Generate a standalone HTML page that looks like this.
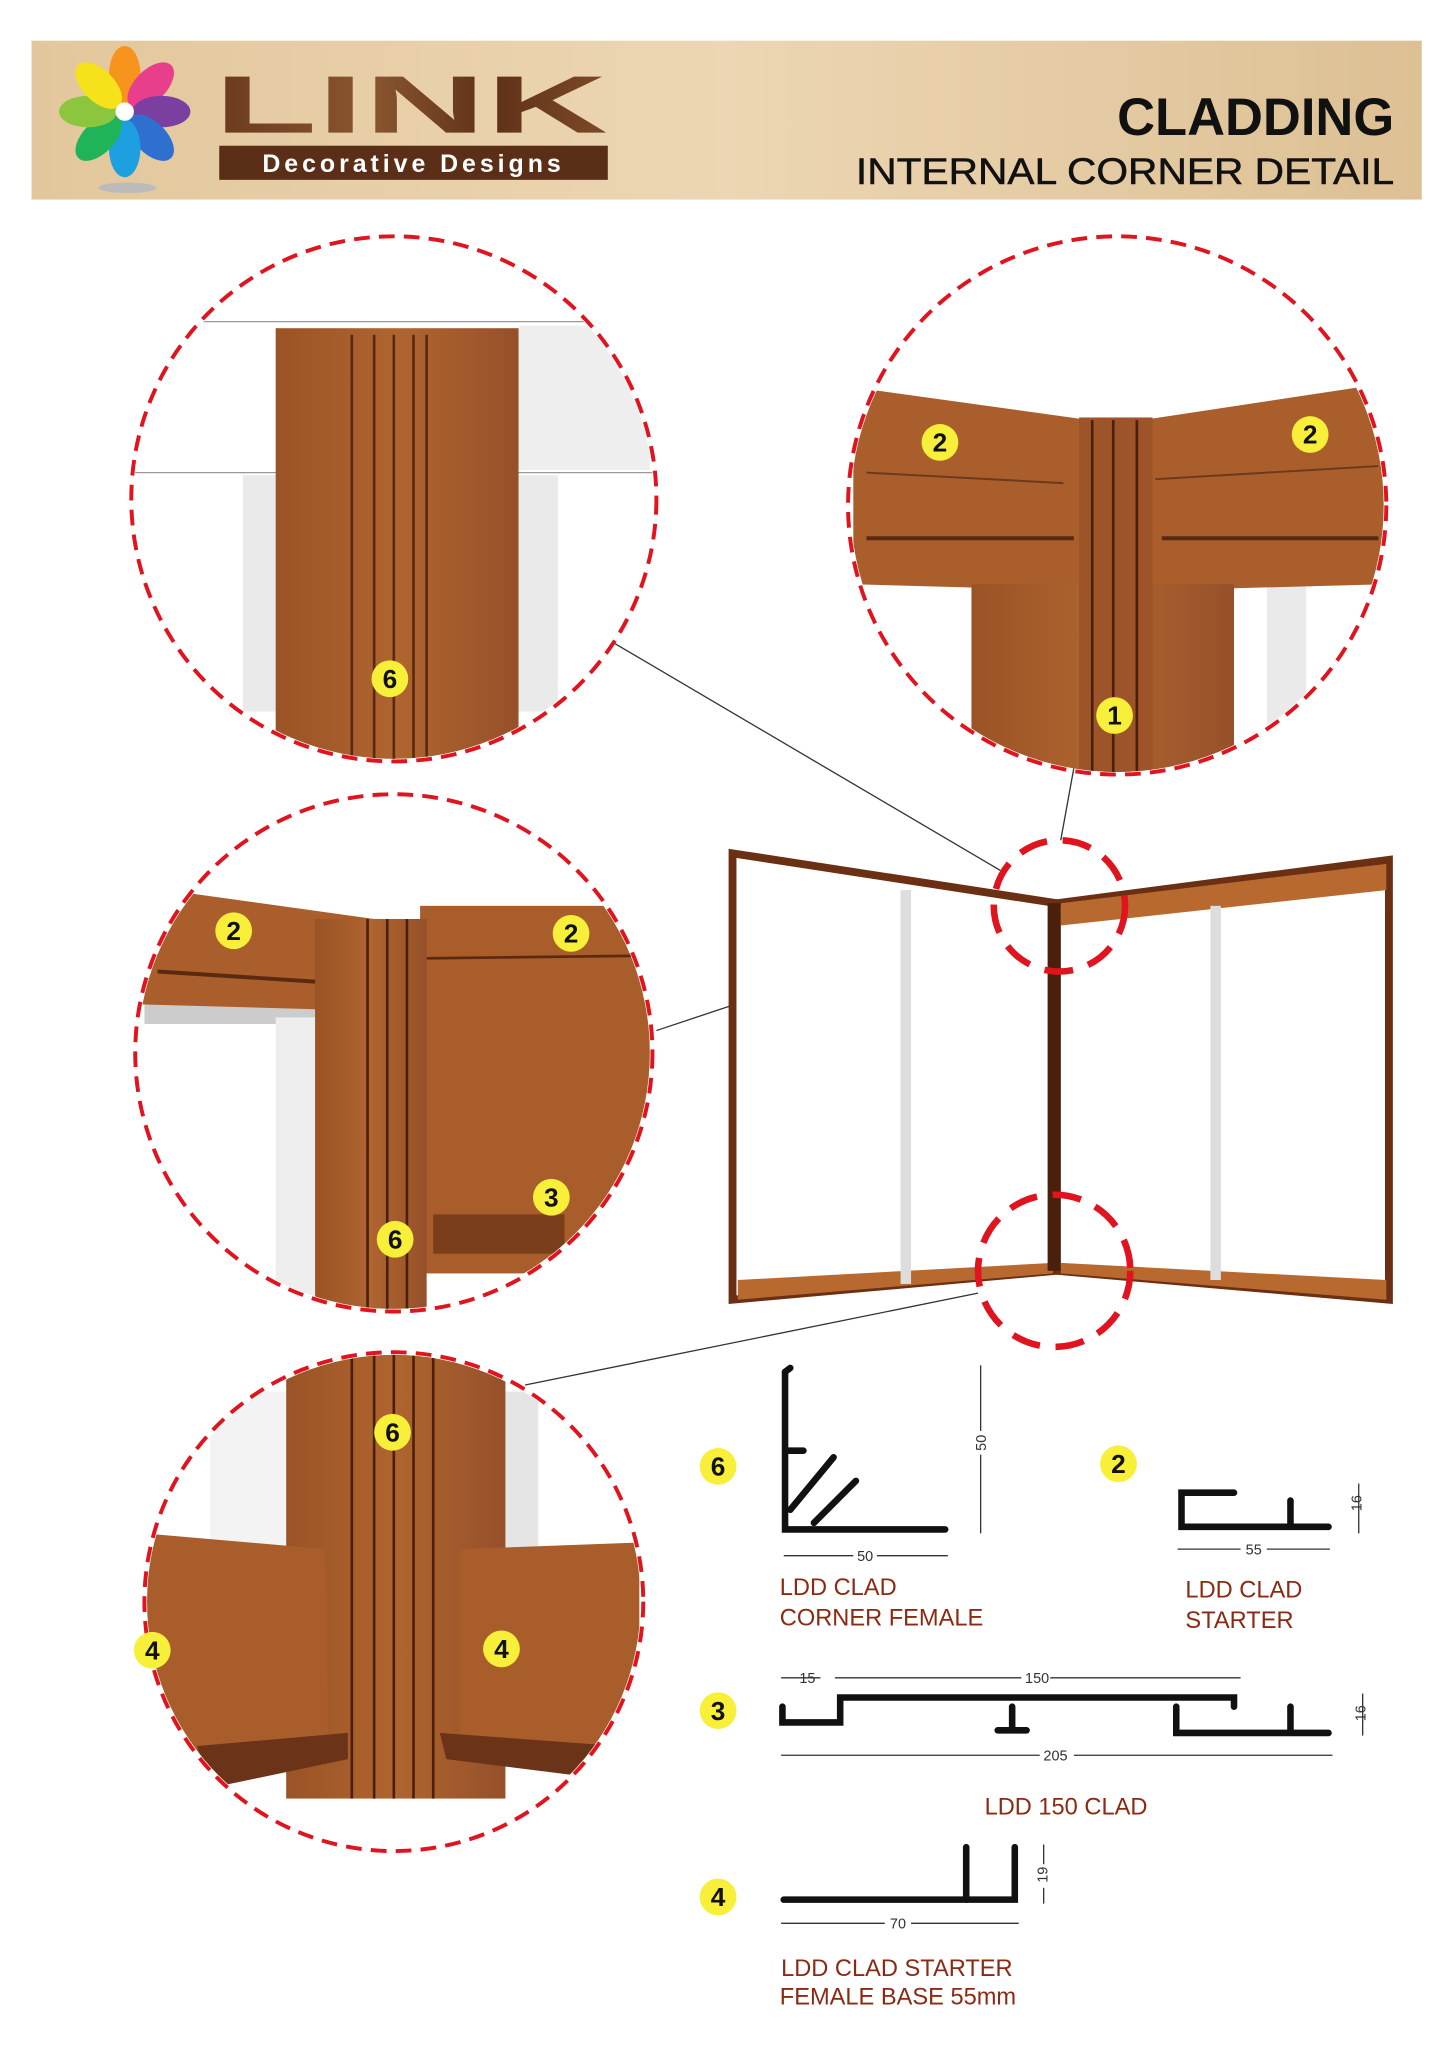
<!DOCTYPE html>
<html><head><meta charset="utf-8"><style>
html,body{margin:0;padding:0;background:#fff;}
svg{display:block;}
text{font-family:"Liberation Sans",sans-serif;}
</style></head><body>
<svg width="1448" height="2048" viewBox="0 0 1103 1560" preserveAspectRatio="none" xmlns="http://www.w3.org/2000/svg">
<defs>
<linearGradient id="wood" x1="0" x2="1" y1="0" y2="0">
<stop offset="0" stop-color="#e3c79c"/><stop offset="0.5" stop-color="#ecd6b3"/><stop offset="1" stop-color="#ddc094"/></linearGradient>
<linearGradient id="lk" x1="0" x2="1"><stop offset="0" stop-color="#6b3a1e"/><stop offset="0.4" stop-color="#8a5630"/><stop offset="0.7" stop-color="#5e3118"/><stop offset="1" stop-color="#7d4a28"/></linearGradient>
<linearGradient id="br" x1="0" x2="1"><stop offset="0" stop-color="#9a5326"/><stop offset="0.5" stop-color="#b0652f"/><stop offset="1" stop-color="#96502a"/></linearGradient>
<clipPath id="c1"><circle cx="300" cy="380" r="198"/></clipPath>
<clipPath id="c2"><circle cx="851" cy="385" r="203"/></clipPath>
<clipPath id="c3"><circle cx="300" cy="802" r="195"/></clipPath>
<clipPath id="c4"><circle cx="300" cy="1220" r="188"/></clipPath>
</defs>
<rect width="1103" height="1560" fill="#fff"/>
<!-- header -->
<rect x="24" y="31" width="1059" height="121" fill="url(#wood)"/>
<g transform="translate(95,85)">
<ellipse cx="0" cy="-28" rx="12" ry="22" fill="#f7941d"/>
<ellipse cx="0" cy="-28" rx="12" ry="22" fill="#e83e8c" transform="rotate(45)"/>
<ellipse cx="0" cy="-28" rx="12" ry="22" fill="#7b3fa0" transform="rotate(90)"/>
<ellipse cx="0" cy="-28" rx="12" ry="22" fill="#2f6fd0" transform="rotate(135)"/>
<ellipse cx="0" cy="-28" rx="12" ry="22" fill="#1ea0e0" transform="rotate(180)"/>
<ellipse cx="0" cy="-28" rx="12" ry="22" fill="#1fb35a" transform="rotate(225)"/>
<ellipse cx="0" cy="-28" rx="12" ry="22" fill="#8cc63f" transform="rotate(270)"/>
<ellipse cx="0" cy="-28" rx="12" ry="22" fill="#f5e21a" transform="rotate(315)"/>
<circle r="7" fill="#fff"/>
</g>
<ellipse cx="97" cy="143" rx="22" ry="4" fill="#bbb"/>
<text x="163" y="101" font-size="62" font-weight="bold" fill="url(#lk)" textLength="300" lengthAdjust="spacingAndGlyphs">LINK</text>
<rect x="167" y="111" width="296" height="26" fill="#5b2f17"/>
<text x="315" y="131" font-size="19" font-weight="bold" fill="#fff" text-anchor="middle" letter-spacing="3">Decorative Designs</text>
<text x="1062" y="103" font-size="40" font-weight="bold" fill="#111" text-anchor="end">CLADDING</text>
<text x="1062" y="140" font-size="28" fill="#111" text-anchor="end" stroke="#111" stroke-width="0.4" textLength="410" lengthAdjust="spacingAndGlyphs">INTERNAL CORNER DETAIL</text>

<!-- connector lines -->
<g stroke="#333" stroke-width="1" fill="none">
<line x1="468" y1="490" x2="762" y2="663"/>
<line x1="818" y1="585" x2="808" y2="640"/>
<line x1="500" y1="785" x2="755" y2="700"/>
<line x1="400" y1="1055" x2="745" y2="985"/>
</g>

<!-- frame -->
<polygon points="558,650 805,688 805,968 558,990" fill="#fff" stroke="#6b2f14" stroke-width="6"/>
<polygon points="805,688 1058,655 1058,990 805,968" fill="#fff" stroke="#6b2f14" stroke-width="6"/>
<polygon points="808,688 1056,658 1056,678 808,705" fill="#b8692f"/>
<polygon points="562,975 802,962 802,970 562,990" fill="#b8692f"/>
<polygon points="808,962 1056,975 1056,990 808,970" fill="#b8692f"/>
<rect x="798" y="688" width="10" height="280" fill="#4a200c"/>
<rect x="686" y="678" width="8" height="300" fill="#ddd"/>
<rect x="922" y="690" width="8" height="285" fill="#ddd"/>

<!-- circle 1 -->
<g clip-path="url(#c1)">
<rect x="100" y="180" width="400" height="400" fill="#fff"/>
<line x1="100" y1="245" x2="500" y2="245" stroke="#999"/>
<rect x="395" y="248" width="100" height="110" fill="#eee"/>
<line x1="100" y1="360" x2="500" y2="360" stroke="#999"/>
<rect x="185" y="362" width="25" height="180" fill="#eaeaea"/>
<rect x="395" y="362" width="30" height="180" fill="#eaeaea"/>
<rect x="210" y="250" width="185" height="330" fill="url(#br)"/>
<g stroke="#5a2a10" stroke-width="2"><line x1="268" y1="255" x2="268" y2="580"/><line x1="285" y1="255" x2="285" y2="580"/><line x1="300" y1="255" x2="300" y2="580"/><line x1="315" y1="255" x2="315" y2="580"/><line x1="325" y1="255" x2="325" y2="580"/></g>
</g>
<circle cx="300" cy="380" r="200" fill="none" stroke="#e0141e" stroke-width="3" stroke-dasharray="12,7"/>

<!-- circle 2 -->
<g clip-path="url(#c2)">
<rect x="640" y="180" width="420" height="420" fill="#fff"/>
<rect x="965" y="445" width="30" height="140" fill="#eaeaea"/>
<polygon points="650,295 830,320 830,450 650,445" fill="#a95e2c"/>
<polygon points="870,320 1055,292 1055,445 870,450" fill="#a95e2c"/>
<line x1="660" y1="410" x2="818" y2="410" stroke="#5a2a10" stroke-width="3"/>
<line x1="885" y1="410" x2="1050" y2="410" stroke="#5a2a10" stroke-width="3"/>
<line x1="660" y1="360" x2="810" y2="368" stroke="#6b3a1e" stroke-width="1.5"/>
<line x1="880" y1="365" x2="1050" y2="355" stroke="#6b3a1e" stroke-width="1.5"/>
<rect x="740" y="445" width="200" height="150" fill="url(#br)"/>
<rect x="822" y="318" width="56" height="280" fill="#9c5428"/>
<g stroke="#4a200c" stroke-width="2"><line x1="832" y1="320" x2="832" y2="590"/><line x1="848" y1="320" x2="848" y2="590"/><line x1="866" y1="320" x2="866" y2="590"/></g>
</g>
<circle cx="851" cy="385" r="205" fill="none" stroke="#e0141e" stroke-width="3" stroke-dasharray="12,7"/>

<!-- circle 3 -->
<g clip-path="url(#c3)">
<rect x="100" y="600" width="400" height="410" fill="#fff"/>
<rect x="110" y="765" width="135" height="15" fill="#ccc"/>
<rect x="210" y="775" width="30" height="220" fill="#eee"/>
<polygon points="105,675 285,700 285,770 105,765" fill="#a95e2c"/>
<line x1="120" y1="740" x2="275" y2="750" stroke="#5a2a10" stroke-width="3"/>
<rect x="320" y="690" width="180" height="280" fill="#a85d2b"/>
<line x1="325" y1="730" x2="490" y2="728" stroke="#5a2a10" stroke-width="2"/>
<rect x="330" y="925" width="100" height="30" fill="#7a3e1a"/>
<rect x="240" y="700" width="85" height="300" fill="url(#br)"/>
<g stroke="#4a200c" stroke-width="2"><line x1="280" y1="700" x2="280" y2="1000"/><line x1="295" y1="700" x2="295" y2="1000"/><line x1="310" y1="700" x2="310" y2="1000"/></g>
</g>
<circle cx="300" cy="802" r="197" fill="none" stroke="#e0141e" stroke-width="3" stroke-dasharray="12,7"/>

<!-- circle 4 -->
<g clip-path="url(#c4)">
<rect x="100" y="1020" width="400" height="400" fill="#fff"/>
<rect x="160" y="1060" width="60" height="120" fill="#f3f3f3"/>
<rect x="385" y="1060" width="25" height="120" fill="#e5e5e5"/>
<rect x="218" y="1030" width="167" height="340" fill="url(#br)"/>
<g stroke="#4a200c" stroke-width="2"><line x1="268" y1="1030" x2="268" y2="1370"/><line x1="285" y1="1030" x2="285" y2="1370"/><line x1="300" y1="1030" x2="300" y2="1370"/><line x1="315" y1="1030" x2="315" y2="1370"/><line x1="330" y1="1030" x2="330" y2="1370"/></g>
<polygon points="110,1168 248,1180 250,1330 110,1340" fill="#a85d2b"/>
<polygon points="350,1180 487,1175 487,1345 350,1330" fill="#a85d2b"/>
<polygon points="150,1330 265,1320 265,1340 160,1362" fill="#6b3418"/>
<polygon points="335,1320 470,1330 460,1355 340,1340" fill="#6b3418"/>
</g>
<circle cx="300" cy="1220" r="190" fill="none" stroke="#e0141e" stroke-width="3" stroke-dasharray="12,7"/>

<!-- small circles -->
<circle cx="807" cy="690" r="50" fill="none" stroke="#e0141e" stroke-width="5" stroke-dasharray="22,12"/>
<circle cx="803" cy="968" r="58" fill="none" stroke="#e0141e" stroke-width="5" stroke-dasharray="22,12"/>

<!-- number badges -->
<g font-size="20" font-weight="bold" text-anchor="middle" fill="#111">
<g><circle cx="297" cy="517" r="14" fill="#f7ef3a"/><text x="297" y="524">6</text></g>
<g><circle cx="716" cy="337" r="14" fill="#f7ef3a"/><text x="716" y="344">2</text></g>
<g><circle cx="998" cy="331" r="14" fill="#f7ef3a"/><text x="998" y="338">2</text></g>
<g><circle cx="849" cy="545" r="14" fill="#f7ef3a"/><text x="849" y="552">1</text></g>
<g><circle cx="178" cy="709" r="14" fill="#f7ef3a"/><text x="178" y="716">2</text></g>
<g><circle cx="435" cy="711" r="14" fill="#f7ef3a"/><text x="435" y="718">2</text></g>
<g><circle cx="420" cy="912" r="14" fill="#f7ef3a"/><text x="420" y="919">3</text></g>
<g><circle cx="301" cy="944" r="14" fill="#f7ef3a"/><text x="301" y="951">6</text></g>
<g><circle cx="299" cy="1091" r="14" fill="#f7ef3a"/><text x="299" y="1098">6</text></g>
<g><circle cx="116" cy="1257" r="14" fill="#f7ef3a"/><text x="116" y="1264">4</text></g>
<g><circle cx="382" cy="1256" r="14" fill="#f7ef3a"/><text x="382" y="1263">4</text></g>
<g><circle cx="547" cy="1117" r="14" fill="#f7ef3a"/><text x="547" y="1124">6</text></g>
<g><circle cx="852" cy="1115" r="14" fill="#f7ef3a"/><text x="852" y="1122">2</text></g>
<g><circle cx="547" cy="1303" r="14" fill="#f7ef3a"/><text x="547" y="1310">3</text></g>
<g><circle cx="547" cy="1445" r="14" fill="#f7ef3a"/><text x="547" y="1452">4</text></g>
</g>

<!-- profiles -->
<g stroke="#111" stroke-width="5" fill="none" stroke-linecap="round">
<polyline points="598,1045 598,1165 720,1165"/>
<line x1="600" y1="1105" x2="612" y2="1105"/>
<line x1="602" y1="1150" x2="635" y2="1110"/>
<line x1="620" y1="1160" x2="652" y2="1128"/>
<line x1="598" y1="1045" x2="602" y2="1042"/>
<polyline points="940,1137 900,1137 900,1163 1012,1163"/>
<line x1="983" y1="1143" x2="983" y2="1163"/>
<polyline points="596,1300 596,1312 640,1312 640,1293 940,1293 940,1300"/>
<polyline points="896,1300 896,1320 1012,1320"/>
<line x1="983" y1="1300" x2="983" y2="1318"/>
<line x1="771" y1="1300" x2="771" y2="1318"/>
<line x1="760" y1="1318" x2="782" y2="1318"/>
<polyline points="597,1447 773,1447 773,1407"/>
<polyline points="736,1447 736,1407"/>
</g>
<g stroke="#333" stroke-width="1" fill="none">
<line x1="747" y1="1040" x2="747" y2="1168"/>
<line x1="597" y1="1185" x2="722" y2="1185"/>
<line x1="897" y1="1180" x2="1013" y2="1180"/>
<line x1="1035" y1="1130" x2="1035" y2="1168"/>
<line x1="595" y1="1278" x2="625" y2="1278"/>
<line x1="636" y1="1278" x2="945" y2="1278"/>
<line x1="595" y1="1337" x2="1015" y2="1337"/>
<line x1="1038" y1="1290" x2="1038" y2="1322"/>
<line x1="595" y1="1465" x2="776" y2="1465"/>
<line x1="795" y1="1405" x2="795" y2="1450"/>
</g>
<g font-size="11" fill="#333" text-anchor="middle">
<rect x="650" y="1177" width="18" height="14" fill="#fff"/><text x="659" y="1189">50</text>
<rect x="740" y="1090" width="14" height="18" fill="#fff"/><text x="751" y="1099" transform="rotate(-90 751 1099)">50</text>
<rect x="945" y="1173" width="20" height="14" fill="#fff"/><text x="955" y="1184">55</text>
<text x="1037" y="1145" transform="rotate(-90 1037 1145)">16</text>
<text x="615" y="1282">15</text>
<rect x="778" y="1271" width="22" height="14" fill="#fff"/><text x="790" y="1282">150</text>
<rect x="792" y="1330" width="26" height="14" fill="#fff"/><text x="804" y="1341">205</text>
<text x="1040" y="1305" transform="rotate(-90 1040 1305)">16</text>
<rect x="674" y="1458" width="20" height="14" fill="#fff"/><text x="684" y="1469">70</text>
<rect x="788" y="1420" width="14" height="18" fill="#fff"/><text x="798" y="1428" transform="rotate(-90 798 1428)">19</text>
</g>
<g font-size="18" fill="#8b2a12">
<text x="594" y="1215">LDD CLAD</text>
<text x="594" y="1238">CORNER FEMALE</text>
<text x="903" y="1217">LDD CLAD</text>
<text x="903" y="1240">STARTER</text>
<text x="750" y="1382">LDD 150 CLAD</text>
<text x="595" y="1505">LDD CLAD STARTER</text>
<text x="594" y="1527">FEMALE BASE 55mm</text>
</g>
</svg>
</body></html>
